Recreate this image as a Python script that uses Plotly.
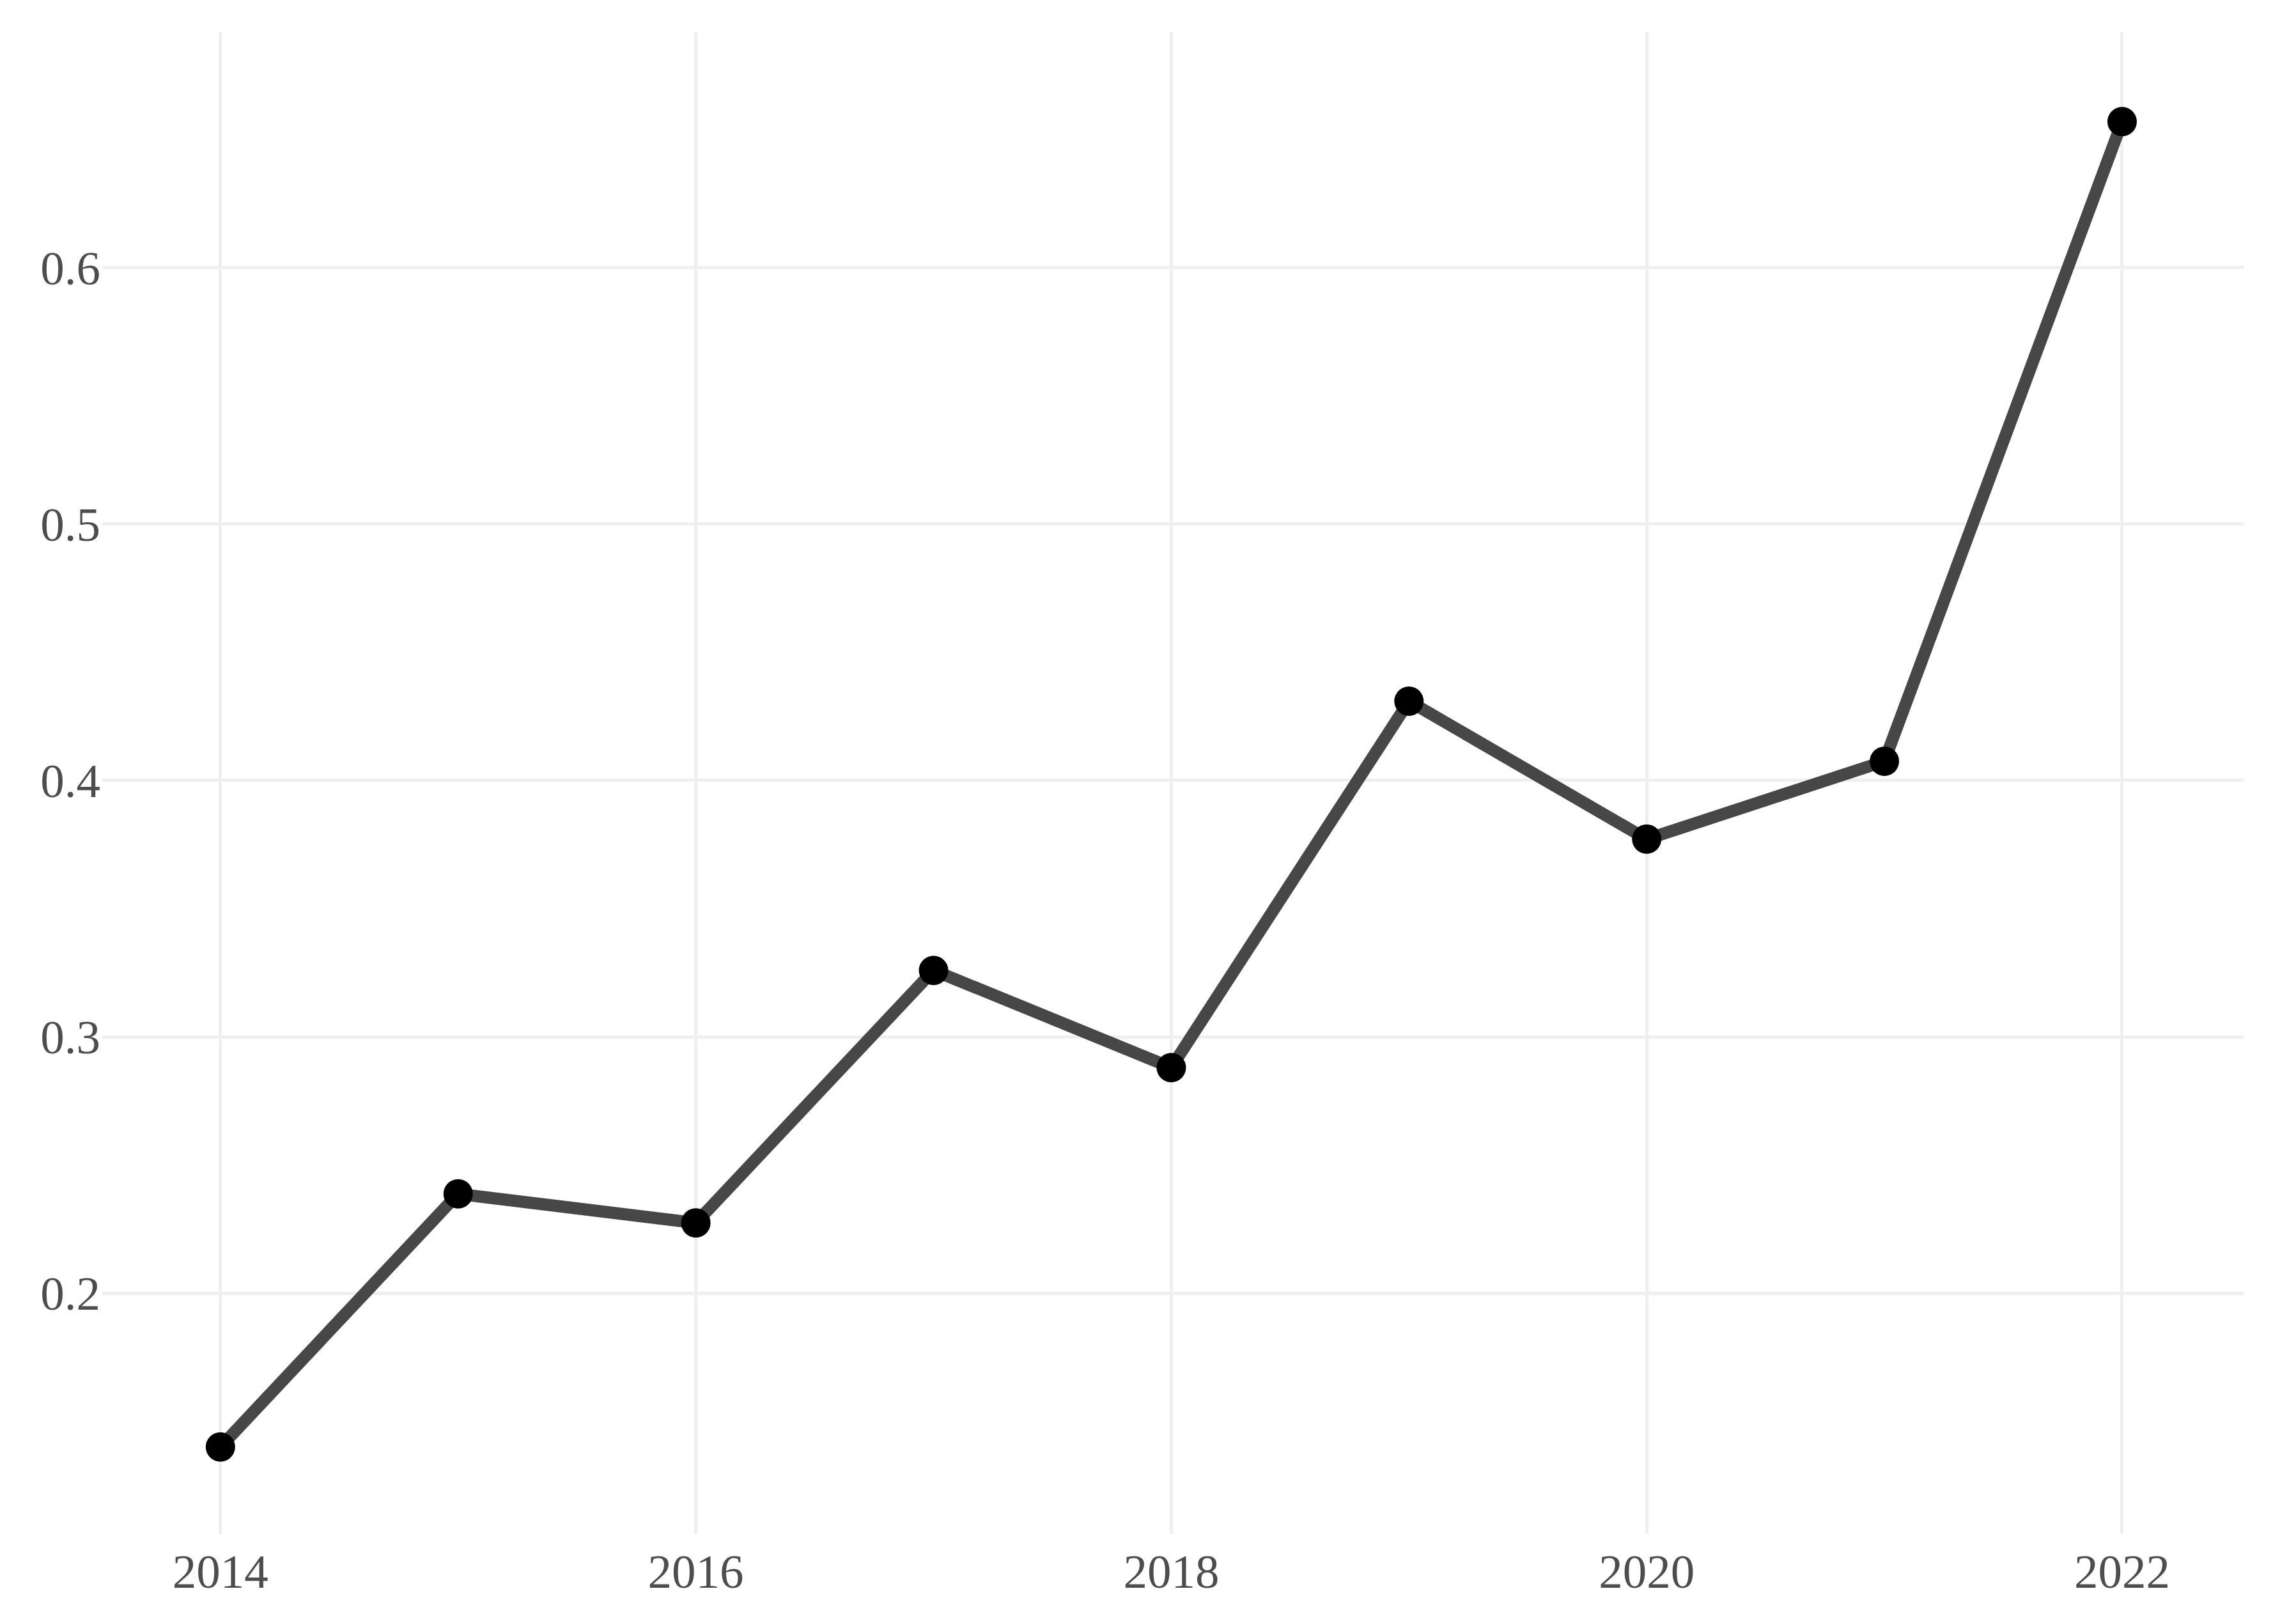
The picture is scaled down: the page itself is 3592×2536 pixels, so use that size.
import plotly.graph_objects as go

years = [2014, 2015, 2016, 2017, 2018, 2019, 2020, 2021, 2022]
values = [0.140, 0.2387, 0.2274, 0.3259, 0.288, 0.4309, 0.3771, 0.4075, 0.657]

x_ticks = [2014, 2016, 2018, 2020, 2022]
y_ticks = [0.2, 0.3, 0.4, 0.5, 0.6]

fig = go.Figure()
fig.add_trace(go.Scatter(
    x=years, y=values, mode="lines",
    line=dict(color="#474747", width=19),
    hoverinfo="skip", showlegend=False,
))
fig.add_trace(go.Scatter(
    x=years, y=values, mode="markers",
    marker=dict(color="black", size=46, line=dict(width=0)),
    showlegend=False,
))

font = dict(family="Liberation Serif", size=75, color="#4d4d4d")
fig.update_layout(
    width=3592, height=2536,
    margin=dict(l=152, r=90, t=42, b=144),
    paper_bgcolor="white", plot_bgcolor="white",
    showlegend=False,
    xaxis=dict(range=[2013.503, 2022.511], tickvals=x_ticks,
               ticktext=[str(v) for v in x_ticks],
               showgrid=True, gridcolor="#efefef", gridwidth=5,
               zeroline=False, showline=False, tickfont=font,
               ticks="", ticklabelstandoff=8),
    yaxis=dict(range=[0.106, 0.692], tickvals=y_ticks,
               ticktext=[str(v) for v in y_ticks],
               showgrid=True, gridcolor="#efefef", gridwidth=5,
               zeroline=False, showline=False, tickfont=font,
               ticks="", ticklabelstandoff=2),
)

fig.write_html("out.html")
